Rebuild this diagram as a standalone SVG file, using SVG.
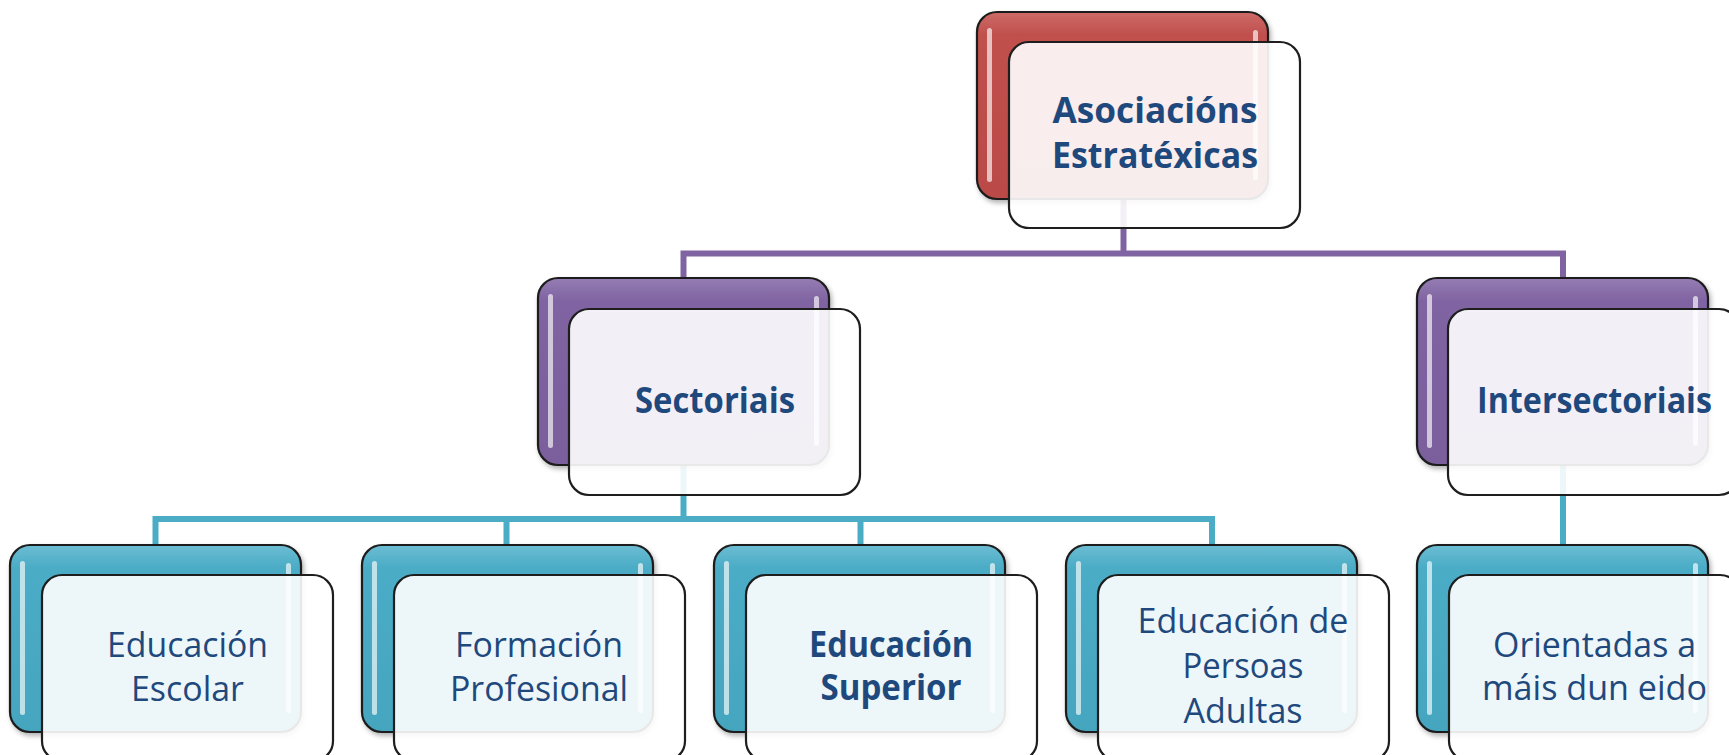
<svg xmlns="http://www.w3.org/2000/svg" width="1729" height="755" viewBox="0 0 1729 755">
<defs>
<linearGradient id="gRed" x1="0" y1="0" x2="0" y2="1"><stop offset="0" stop-color="#CD6B68"/><stop offset="0.12" stop-color="#C0504D"/><stop offset="1" stop-color="#BA4A47"/></linearGradient>
<linearGradient id="gPur" x1="0" y1="0" x2="0" y2="1"><stop offset="0" stop-color="#957DB3"/><stop offset="0.12" stop-color="#8064A2"/><stop offset="1" stop-color="#7A5E9C"/></linearGradient>
<linearGradient id="gCya" x1="0" y1="0" x2="0" y2="1"><stop offset="0" stop-color="#6CBDD3"/><stop offset="0.12" stop-color="#4BACC6"/><stop offset="1" stop-color="#45A5BF"/></linearGradient>
<filter id="sh" x="-10%" y="-10%" width="125%" height="130%"><feDropShadow dx="2" dy="3" stdDeviation="2.5" flood-color="#000" flood-opacity="0.3"/></filter>
</defs>
<style>
.back{stroke:#1E1E1E;stroke-width:2.2}
.front{fill:#FFFFFF;fill-opacity:0.9;stroke:#1E1E1E;stroke-width:2.2}
.hl{fill:#FFFFFF;fill-opacity:0.65}
.lp{stroke:#8064A2;stroke-width:6;fill:none}
.lc{stroke:#4BACC6;stroke-width:6;fill:none}
.t{font-family:"Open Sans","Noto Sans","Liberation Sans",sans-serif;font-size:35px;fill:#1F497D;text-anchor:middle}
.b{font-weight:bold}
</style>
<g id="connectors">
<path class="lp" d="M1123.5,199 V253.5 M683.5,253.5 H1563 M683.5,250.5 V280 M1563,250.5 V280"/>
<path class="lc" d="M683.5,465 V519 M155.5,519 H1212 M155.5,516 V547 M506.5,516 V547 M860.5,516 V547 M1212,516 V547 M1563,465 V547"/>
</g>
<g id="node-asociacions">
<rect class="back" x="977" y="12" width="291" height="187" rx="20" fill="url(#gRed)" filter="url(#sh)"/>
<rect class="hl" x="987" y="28" width="5" height="154" rx="2.5"/>
<rect class="hl" x="1253" y="30" width="5" height="150" rx="2.5"/>
<rect class="front" x="1009" y="42" width="291" height="186" rx="20"/>
<text class="t b" x="1155" y="123" textLength="205" lengthAdjust="spacingAndGlyphs">Asociacións</text>
<text class="t b" x="1155" y="168" textLength="206" lengthAdjust="spacingAndGlyphs">Estratéxicas</text>
</g>
<g id="node-sectoriais">
<rect class="back" x="538" y="278" width="291" height="187" rx="20" fill="url(#gPur)" filter="url(#sh)"/>
<rect class="hl" x="548" y="294" width="5" height="154" rx="2.5"/>
<rect class="hl" x="814" y="296" width="5" height="150" rx="2.5"/>
<rect class="front" x="569" y="309" width="291" height="186" rx="20"/>
<text class="t b" x="715" y="413" textLength="160" lengthAdjust="spacingAndGlyphs">Sectoriais</text>
</g>
<g id="node-intersectoriais">
<rect class="back" x="1417" y="278" width="291" height="187" rx="20" fill="url(#gPur)" filter="url(#sh)"/>
<rect class="hl" x="1427" y="294" width="5" height="154" rx="2.5"/>
<rect class="hl" x="1693" y="296" width="5" height="150" rx="2.5"/>
<rect class="front" x="1448" y="309" width="291" height="186" rx="20"/>
<text class="t b" x="1594.5" y="413" textLength="235" lengthAdjust="spacingAndGlyphs">Intersectoriais</text>
</g>
<g id="node-escolar">
<rect class="back" x="10" y="545" width="291" height="187" rx="20" fill="url(#gCya)" filter="url(#sh)"/>
<rect class="hl" x="20" y="561" width="5" height="154" rx="2.5"/>
<rect class="hl" x="286" y="563" width="5" height="150" rx="2.5"/>
<rect class="front" x="42" y="575" width="291" height="186" rx="20"/>
<text class="t" x="187.5" y="657" textLength="161" lengthAdjust="spacingAndGlyphs">Educación</text>
<text class="t" x="187.5" y="701" textLength="113" lengthAdjust="spacingAndGlyphs">Escolar</text>
</g>
<g id="node-fp">
<rect class="back" x="362" y="545" width="291" height="187" rx="20" fill="url(#gCya)" filter="url(#sh)"/>
<rect class="hl" x="372" y="561" width="5" height="154" rx="2.5"/>
<rect class="hl" x="638" y="563" width="5" height="150" rx="2.5"/>
<rect class="front" x="394" y="575" width="291" height="186" rx="20"/>
<text class="t" x="539" y="657" textLength="168" lengthAdjust="spacingAndGlyphs">Formación</text>
<text class="t" x="539" y="701" textLength="178" lengthAdjust="spacingAndGlyphs">Profesional</text>
</g>
<g id="node-superior">
<rect class="back" x="714" y="545" width="291" height="187" rx="20" fill="url(#gCya)" filter="url(#sh)"/>
<rect class="hl" x="724" y="561" width="5" height="154" rx="2.5"/>
<rect class="hl" x="990" y="563" width="5" height="150" rx="2.5"/>
<rect class="front" x="746" y="575" width="291" height="186" rx="20"/>
<text class="t b" x="891" y="657" textLength="164" lengthAdjust="spacingAndGlyphs">Educación</text>
<text class="t b" x="891" y="700" textLength="141" lengthAdjust="spacingAndGlyphs">Superior</text>
</g>
<g id="node-adultas">
<rect class="back" x="1066" y="545" width="291" height="187" rx="20" fill="url(#gCya)" filter="url(#sh)"/>
<rect class="hl" x="1076" y="561" width="5" height="154" rx="2.5"/>
<rect class="hl" x="1342" y="563" width="5" height="150" rx="2.5"/>
<rect class="front" x="1098" y="575" width="291" height="186" rx="20"/>
<text class="t" x="1243" y="633" textLength="211" lengthAdjust="spacingAndGlyphs">Educación de</text>
<text class="t" x="1243" y="678" textLength="121" lengthAdjust="spacingAndGlyphs">Persoas</text>
<text class="t" x="1243" y="723" textLength="119" lengthAdjust="spacingAndGlyphs">Adultas</text>
</g>
<g id="node-orientadas">
<rect class="back" x="1417" y="545" width="291" height="187" rx="20" fill="url(#gCya)" filter="url(#sh)"/>
<rect class="hl" x="1427" y="561" width="5" height="154" rx="2.5"/>
<rect class="hl" x="1693" y="563" width="5" height="150" rx="2.5"/>
<rect class="front" x="1449" y="575" width="291" height="186" rx="20"/>
<text class="t" x="1594.5" y="657" textLength="203" lengthAdjust="spacingAndGlyphs">Orientadas a</text>
<text class="t" x="1594.5" y="700" textLength="225" lengthAdjust="spacingAndGlyphs">máis dun eido</text>
</g>
</svg>
